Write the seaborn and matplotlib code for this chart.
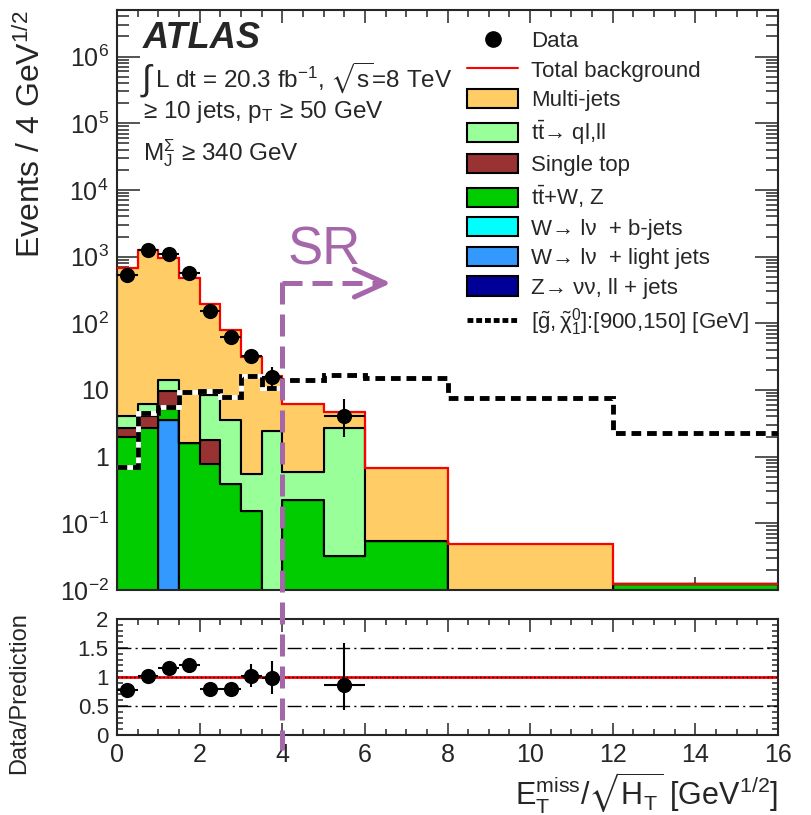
# ATLAS-style Etmiss/sqrt(HT) distribution with data/prediction ratio panel
import numpy as np
import pandas as pd
import matplotlib
matplotlib.use('Agg')
import matplotlib.pyplot as plt
import matplotlib.transforms as mtransforms
import seaborn as sns
from matplotlib.lines import Line2D
from matplotlib.patches import Patch
from matplotlib.ticker import MultipleLocator, LogLocator, FuncFormatter, NullFormatter

# bin edges [GeV^1/2]
edges = [0, 0.5, 1, 1.5, 2, 2.5, 3, 3.5, 4, 5, 6, 8, 12, 16]

# background components per bin
multijets  = [666, 1234, 946, 478, 187.6, 76.5, 30.5, 13.5, 5.6, 1.94, 0.615, 0.049, 0]
ttbar      = [1.34, 2.1, 4.4, 0, 6.6, 3.16, 0.395, 2.45, 0.356, 2.63, 0, 0, 0]
single_top = [0.71, 1.34, 4.6, 0, 1.01, 0, 0, 0, 0, 0, 0, 0, 0]
ttv        = [1.95, 2.66, 1.55, 1.59, 0.77, 0.39, 0.155, 0, 0.224, 0.032, 0.055, 0, 0.0123]
w_bjets    = [0, 0, 0, 0, 0, 0, 0, 0, 0, 0, 0, 0, 0]
w_light    = [0, 0, 3.55, 0, 0, 0, 0, 0, 0, 0, 0, 0, 0]
z_jets     = [0, 0, 0, 0, 0, 0, 0, 0, 0, 0, 0, 0, 0]

# signal point [900,150]
signal = [0.71, 4.5, 5.6, 9.2, 9.8, 7.9, 16.4, 10.6, 14.1, 16.8, 15, 7.5, 2.3]

# data
data_x = [0.25, 0.75, 1.25, 1.75, 2.25, 2.75, 3.25, 3.75, 5.5]
data_y = [525, 1270, 1100, 575, 155, 63, 32, 15.8, 4.0]
data_xerr = [0.25, 0.25, 0.25, 0.25, 0.25, 0.25, 0.25, 0.25, 0.5]
data_err_lo = [23, 36, 33, 24, 12, 8, 5.6, 4.6, 2.0]
data_err_hi = [23, 36, 33, 24, 12, 8, 5.6, 6.6, 3.3]

# data / prediction
ratio = [0.78, 1.02, 1.15, 1.2, 0.79, 0.79, 1.02, 0.99, 0.86]
ratio_err_lo = [0.04, 0.03, 0.04, 0.05, 0.06, 0.09, 0.2, 0.29, 0.43]
ratio_err_hi = [0.04, 0.03, 0.04, 0.05, 0.06, 0.09, 0.2, 0.29, 0.72]

processes = ['Multi-jets', r'$t\bar{t}$→ ql,ll', 'Single top', r'$t\bar{t}$+W, Z',
             'W→ lν  + b-jets', 'W→ lν  + light jets', 'Z→ νν, ll + jets']
colors = ['#FFCC66', '#99FF99', '#993333', '#00CC00', '#00FFFF', '#3399FF', '#000099']
yields = [multijets, ttbar, single_top, ttv, w_bjets, w_light, z_jets]

sr_cut = 4.0
purple = '#A567AA'

sns.set_style('ticks')
plt.rcParams['font.family'] = ['Liberation Sans', 'DejaVu Sans']
plt.rcParams['mathtext.fontset'] = 'custom'
plt.rcParams['mathtext.rm'] = 'Liberation Sans'
plt.rcParams['mathtext.it'] = 'Liberation Sans:italic'
plt.rcParams['mathtext.bf'] = 'Liberation Sans:bold'
plt.rcParams['mathtext.sf'] = 'Liberation Sans'
plt.rcParams['mathtext.fallback'] = 'stixsans'
plt.rcParams['mathtext.default'] = 'regular'

# long table for seaborn
centres = [(lo + hi) / 2 for lo, hi in zip(edges[:-1], edges[1:])]
rows = []
for name, vals in zip(processes, yields):
    for c, v in zip(centres, vals):
        rows.append({'x': c, 'w': v, 'process': name})
df = pd.DataFrame(rows)
total = np.sum(np.array(yields), axis=0)

fig = plt.figure(figsize=(8.11, 8.15), dpi=100)
ax = fig.add_axes([0.1443, 0.2761, 0.815, 0.7117])
ax2 = fig.add_axes([0.1443, 0.0982, 0.815, 0.1423])

# stacked backgrounds
sns.histplot(data=df, x='x', weights='w', hue='process', hue_order=processes,
             palette=dict(zip(processes, colors)), bins=edges, multiple='stack',
             element='step', fill=True, alpha=1, ec='black', lw=1.5,
             legend=False, ax=ax)
ax.set_yscale('log')
ax.stairs(total, edges, baseline=None, color='red', lw=1.5, zorder=3)

# signal: white underlay so the gaps look like ROOT's dotted line
ax.stairs(signal, edges, baseline=None, color='white', lw=3.5, zorder=4)
ax.stairs(signal, edges, baseline=None, color='black', lw=3.5,
          linestyle=(0, (2, 1.2)), zorder=4)

# data
ax.errorbar(data_x, data_y, xerr=data_xerr, yerr=[data_err_lo, data_err_hi],
            fmt='none', ecolor='black', elinewidth=1.5, capsize=0, zorder=5)
sns.scatterplot(x=data_x, y=data_y, color='black', s=120, linewidth=0, ax=ax, zorder=6)

ax.set_xlim(0, 16)
ax.set_ylim(1e-2, 5e6)
ax.set_xlabel('')
ax.set_ylabel(r'Events / 4 GeV$^{1/2}$', fontsize=23, loc='top')
ax.yaxis.set_label_coords(-0.106, 1.0)

def log_label(v, pos):
    e = int(round(np.log10(v)))
    if e == 0:
        return '1'
    if e == 1:
        return '10'
    return r'$10^{%d}$' % e

ax.yaxis.set_major_locator(LogLocator(base=10, numticks=20))
ax.yaxis.set_minor_locator(LogLocator(base=10, subs=np.arange(2, 10), numticks=100))
ax.yaxis.set_major_formatter(FuncFormatter(log_label))
ax.yaxis.set_minor_formatter(NullFormatter())
ax.xaxis.set_major_locator(MultipleLocator(2))
ax.xaxis.set_minor_locator(MultipleLocator(0.5))
ax.tick_params(which='both', direction='in', top=True, right=True, width=1.1)
ax.tick_params(axis='x', which='major', length=9.5, labelbottom=False)
ax.tick_params(axis='x', which='minor', length=5)
ax.tick_params(axis='y', which='major', length=16.5, labelsize=18, pad=6)
ax.tick_params(axis='y', which='minor', length=8.5)
for s in ax.spines.values():
    s.set_linewidth(1.5)

# labels
ax.text(0.039, 0.934, 'ATLAS', transform=ax.transAxes, fontsize=26,
        fontweight='bold', fontstyle='italic')
ax.text(0.037, 0.862, '∫', transform=ax.transAxes, fontsize=25)
ax.text(0.0575, 0.867, r'L dt = 20.3 fb$^{-1}$, $\sqrt{s}$=8 TeV',
        transform=ax.transAxes, fontsize=17.5)
ax.text(0.039, 0.814, '≥ 10 jets, p$_T$ ≥ 50 GeV',
        transform=ax.transAxes, fontsize=17.5)
ax.text(0.039, 0.741, r'M$_J^{\Sigma}$ ≥ 340 GeV',
        transform=ax.transAxes, fontsize=17.5)

# legend
handles = [Line2D([], [], marker='o', color='black', ls='none', ms=11),
           Line2D([], [], color='red', lw=1.5)]
handles += [Patch(facecolor=c, edgecolor='black', lw=1.5) for c in colors]
handles += [Line2D([], [], color='black', lw=3.5, ls=(0, (1.2, 0.6)))]
labels = ['Data', 'Total background'] + processes + \
         [r'[$\tilde{g},\tilde{\chi}_1^0$]:[900,150] [GeV]']
ax.legend(handles, labels, loc='upper left', bbox_to_anchor=(0.53, 0.9655),
          frameon=False, fontsize=16, handlelength=2.3, handleheight=0.95,
          labelspacing=0.33, handletextpad=0.55, borderpad=0, borderaxespad=0)

# signal region marker
ax.text(4.14, 750, 'SR', fontsize=38, color=purple, va='baseline')
ax.plot([sr_cut, 6.3], [400, 400], color=purple, lw=3.6, ls=(0, (4, 2)),
        solid_capstyle='butt', zorder=7)
ax.annotate('', xy=(6.7, 400), xytext=(6.2, 400),
            arrowprops=dict(arrowstyle='->, head_length=1.1, head_width=0.5',
                            lw=3.6, color=purple, mutation_scale=20), zorder=7)
blend = mtransforms.blended_transform_factory(ax.transData, fig.transFigure)
fig.add_artist(Line2D([sr_cut, sr_cut], [1 - 282 / 815, 1 - 750 / 815], transform=blend,
                      color=purple, lw=3.6, ls=(0, (4.4, 2)), zorder=10))

# ratio panel
ax2.axhline(1, color='red', lw=2)
ax2.axhline(1, color='black', lw=1, ls=(0, (1, 2)))
ax2.axhline(0.5, color='black', lw=1, ls=(0, (10, 3, 1.5, 3)))
ax2.axhline(1.5, color='black', lw=1, ls=(0, (10, 3, 1.5, 3)))
ax2.errorbar(data_x, ratio, xerr=data_xerr, yerr=[ratio_err_lo, ratio_err_hi],
             fmt='none', ecolor='black', elinewidth=1.5, capsize=0, zorder=5)
sns.scatterplot(x=data_x, y=ratio, color='black', s=120, linewidth=0, ax=ax2, zorder=6)
ax2.set_xlim(0, 16)
ax2.set_ylim(0, 2)
ax2.xaxis.set_major_locator(MultipleLocator(2))
ax2.xaxis.set_minor_locator(MultipleLocator(0.5))
ax2.yaxis.set_major_locator(MultipleLocator(0.5))
ax2.yaxis.set_minor_locator(MultipleLocator(0.1))
ax2.yaxis.set_major_formatter(FuncFormatter(lambda v, p: '%g' % v))
ax2.tick_params(which='both', direction='in', top=True, right=True, width=1.1)
ax2.tick_params(axis='x', which='major', length=9, pad=6, labelsize=18)
ax2.tick_params(axis='x', which='minor', length=4.5)
ax2.tick_params(axis='y', which='major', length=8, pad=6, labelsize=16)
ax2.tick_params(axis='y', which='minor', length=4)
for s in ax2.spines.values():
    s.set_linewidth(1.5)
ax2.set_ylabel('Data/Prediction', fontsize=17, loc='top')
ax2.yaxis.set_label_coords(-0.132, 1.06)
ax2.set_xlabel(r'$E_T^{miss}/\sqrt{H_T}$ [GeV$^{1/2}$]', fontsize=22, loc='right',
               labelpad=2)

fig.savefig('out.png', dpi=100)
